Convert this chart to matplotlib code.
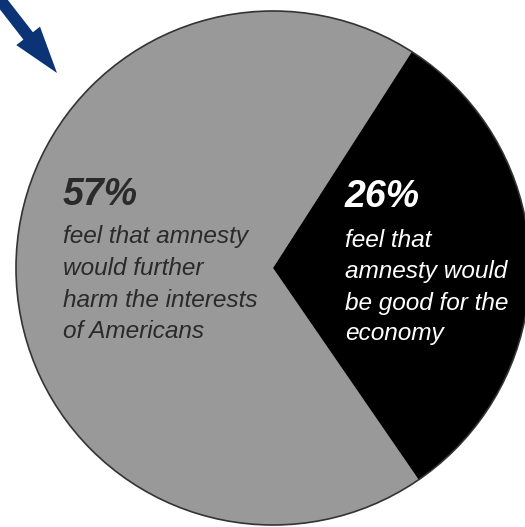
import matplotlib.pyplot as plt
from matplotlib.patches import Circle, FancyArrow

# values shown on the chart
labels = ["harm", "good"]
shares = [57, 26]
colors = ["#999999", "#000000"]
pct_labels = ["57%", "26%"]
captions = [
    ["feel that amnesty", "would further", "harm the interests", "of Americans"],
    ["feel that", "amnesty would", "be good for the", "economy"],
]

W, H = 525, 527
fig = plt.figure(figsize=(W / 100, H / 100), dpi=100)
ax = fig.add_axes([0, 0, 1, 1])

cx, cy, r = 273, H - 268, 257
ax.pie(shares, colors=colors, startangle=57.3, counterclock=True,
       center=(cx, cy), radius=r, frame=True,
       wedgeprops=dict(linewidth=0))
ax.add_patch(Circle((cx, cy), r, fill=False, edgecolor="#333333", lw=1.2))
ax.set_xlim(0, W)
ax.set_ylim(0, H)
ax.set_aspect("equal")
ax.axis("off")

# text blocks
txt_col = ["#2a2a2a", "white"]
pos = [(63, 205), (345, 207)]
line_y = [[243, 275, 307, 338], [247, 278, 310, 340]]
for i in range(2):
    x, y = pos[i]
    ax.text(x, H - y, pct_labels[i], fontsize=27, fontweight="bold",
            fontstyle="italic", color=txt_col[i], family="Liberation Sans",
            ha="left", va="baseline")
    for j, line in enumerate(captions[i]):
        ax.text(x, H - line_y[i][j], line, fontsize=17.6, fontstyle="italic",
                color=txt_col[i], family="Liberation Sans",
                ha="left", va="baseline")

# arrow in the corner
ax.add_patch(FancyArrow(-6, H + 8, 63, -81, width=12, head_width=30,
                        head_length=47, length_includes_head=True,
                        color="#0b3375", lw=0))

fig.savefig("out.png", dpi=100)
